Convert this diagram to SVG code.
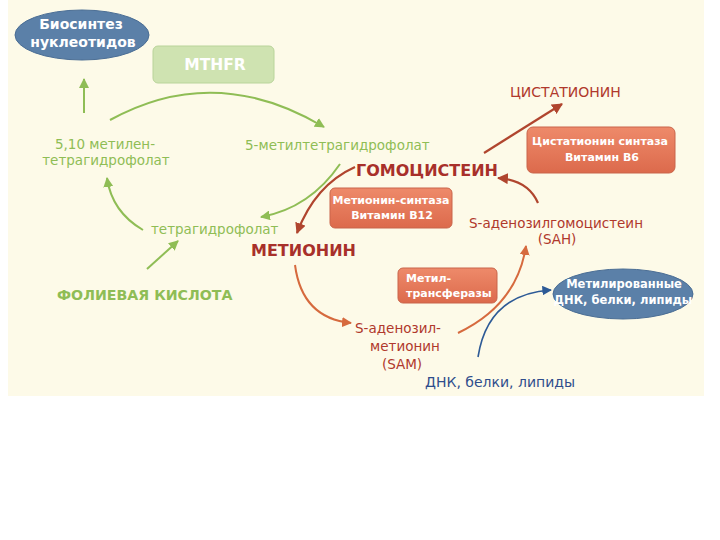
<svg xmlns="http://www.w3.org/2000/svg" width="720" height="540" viewBox="0 0 720 540">
<style>
text{font-family:"DejaVu Sans","Noto Sans",sans-serif}
.g{fill:#8fbd55;font-size:13.5px}
.gb{fill:#8fbd55;font-size:14.2px;font-weight:bold}
.r{fill:#a8302a;font-size:16px;font-weight:bold}
.rn{fill:#b0382c;font-size:13.5px}
.w{fill:#ffffff;font-size:11px;font-weight:bold}
.wm{fill:#ffffff;font-size:11.5px;font-weight:bold}
.wl{fill:#ffffff;font-size:14px;font-weight:bold}
.bl{fill:#2f4d8c;font-size:14px}
.box{stroke:#c9654a;stroke-width:1}
.ell{fill:#5b80a8;stroke:#4a6d94;stroke-width:1}
.ag{fill:none;stroke:#8fbd55;stroke-width:2}
.ar{fill:none;stroke:#b0452e;stroke-width:2.2}
.ao{fill:none;stroke:#d66a3e;stroke-width:2}
.ab{fill:none;stroke:#2d5a96;stroke-width:1.6}
</style>
<defs>
<marker id="mg" viewBox="0 0 10 10" refX="9" refY="5" markerWidth="5" markerHeight="5" orient="auto"><path d="M0,0L10,5L0,10z" fill="#8fbd55"/></marker>
<marker id="mr" viewBox="0 0 10 10" refX="9" refY="5" markerWidth="5" markerHeight="5" orient="auto"><path d="M0,0L10,5L0,10z" fill="#b0452e"/></marker>
<marker id="mo" viewBox="0 0 10 10" refX="9" refY="5" markerWidth="5" markerHeight="5" orient="auto"><path d="M0,0L10,5L0,10z" fill="#d66a3e"/></marker>
<marker id="mb" viewBox="0 0 10 10" refX="9" refY="5" markerWidth="6" markerHeight="6" orient="auto"><path d="M0,0L10,5L0,10z" fill="#2d5a96"/></marker>
<linearGradient id="bg" x1="0" y1="0" x2="0" y2="1"><stop offset="0" stop-color="#ee8a6a"/><stop offset="1" stop-color="#dc6a4c"/></linearGradient>
</defs>
<rect x="8" y="0" width="696" height="396" fill="#fdfae8"/>

<g id="connectors">
<path class="ag" d="M84,113 L84,79" marker-end="url(#mg)"/>
<path class="ag" d="M110,120 Q215,62 324,127" marker-end="url(#mg)"/>
<path class="ag" d="M340,164 Q310,208 261,217" marker-end="url(#mg)"/>
<path class="ar" d="M355,167 Q315,185 297,233" marker-end="url(#mr)"/>
<path class="ag" d="M143,230 Q112,212 107,178" marker-end="url(#mg)"/>
<path class="ag" d="M147,269 L178,241" marker-end="url(#mg)"/>
<path class="ao" d="M295,265 Q302,318 351,323" marker-end="url(#mo)"/>
<path class="ar" d="M484,153 L562,104" marker-end="url(#mr)"/>
<path class="ar" d="M538,203 Q528,180 498,178" marker-end="url(#mr)"/>
<path class="ao" d="M458,333 Q517,305 526,246" marker-end="url(#mo)"/>
<path class="ab" d="M478,357 Q488,294 551,290" marker-end="url(#mb)"/>
</g>

<g id="n-biosynthesis">
<ellipse class="ell" cx="82" cy="35" rx="67" ry="25"/>
<text class="wl" x="81" y="29" text-anchor="middle">Биосинтез</text>
<text class="wl" x="83" y="47" text-anchor="middle">нуклеотидов</text>
</g>
<g id="n-mthfr">
<rect x="153" y="46" width="121" height="37" rx="5" fill="#cfe3b1" stroke="#b9d49a"/>
<text x="215" y="70" text-anchor="middle" fill="#ffffff" style="font-size:15.5px;font-weight:bold">MTHFR</text>
</g>
<g id="n-methylene">
<text class="g" x="105" y="149" text-anchor="middle">5,10 метилен-</text>
<text class="g" x="106" y="165" text-anchor="middle">тетрагидрофолат</text>
</g>
<g id="n-5methyl">
<text class="g" x="245" y="150">5-метилтетрагидрофолат</text>
</g>
<g id="n-homocysteine">
<text class="r" x="356" y="176">ГОМОЦИСТЕИН</text>
</g>
<g id="n-ms">
<rect class="box" x="330" y="188" width="122" height="40" rx="5" fill="url(#bg)"/>
<text class="w" x="391" y="204" text-anchor="middle">Метионин-синтаза</text>
<text class="w" x="392" y="219" text-anchor="middle">Витамин В12</text>
</g>
<g id="n-cystathionine">
<text class="rn" x="510" y="97" style="font-size:14px">ЦИСТАТИОНИН</text>
</g>
<g id="n-cbs">
<rect class="box" x="527" y="127" width="148" height="46" rx="6" fill="url(#bg)"/>
<text class="w" x="600" y="145" text-anchor="middle">Цистатионин синтаза</text>
<text class="w" x="602" y="161" text-anchor="middle">Витамин В6</text>
</g>
<g id="n-sah">
<text class="rn" x="556" y="228" text-anchor="middle">S-аденозилгомоцистеин</text>
<text class="rn" x="557" y="244" text-anchor="middle">(SAH)</text>
</g>
<g id="n-thf">
<text class="g" x="151" y="234">тетрагидрофолат</text>
</g>
<g id="n-methionine">
<text class="r" x="251" y="256">МЕТИОНИН</text>
</g>
<g id="n-folic">
<text class="gb" x="57" y="300">ФОЛИЕВАЯ КИСЛОТА</text>
</g>
<g id="n-mt">
<rect class="box" x="398" y="268" width="99" height="35" rx="5" fill="url(#bg)"/>
<text class="w" x="406" y="282">Метил-</text>
<text class="w" x="406" y="297">трансферазы</text>
</g>
<g id="n-sam">
<text class="rn" x="398" y="333" text-anchor="middle">S-аденозил-</text>
<text class="rn" x="405" y="351" text-anchor="middle">метионин</text>
<text class="rn" x="402" y="369" text-anchor="middle">(SAM)</text>
</g>
<g id="n-methylated">
<ellipse class="ell" cx="623" cy="294" rx="70" ry="25"/>
<text class="wm" x="624" y="288" text-anchor="middle">Метилированные</text>
<text class="wm" x="623" y="304" text-anchor="middle">ДНК, белки, липиды</text>
</g>
<g id="n-dna">
<text class="bl" x="425" y="387">ДНК, белки, липиды</text>
</g>
</svg>
